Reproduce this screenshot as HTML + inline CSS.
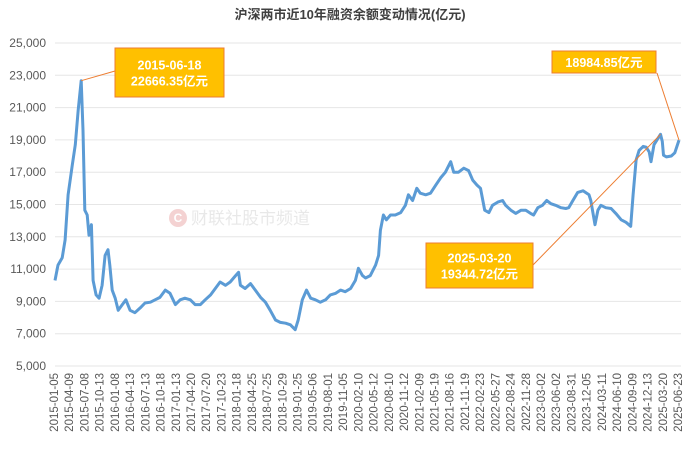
<!DOCTYPE html>
<html><head><meta charset="utf-8"><style>
body{margin:0;background:#fff;}
svg{display:block;font-family:"Liberation Sans","Noto Sans CJK SC",sans-serif;}
</style></head><body>
<svg id="chart" width="693" height="453" viewBox="0 0 693 453">
<text x="350" y="19" text-anchor="middle" font-size="13" font-weight="bold" fill="#404040">沪深两市近10年融资余额变动情况(亿元)</text>
<g id="grid"></g><g id="yticks"></g><g id="xticks"></g>
<g opacity="0.35">
<circle cx="178" cy="218" r="9" fill="#e08080"/>
<text x="178" y="222" text-anchor="middle" font-size="12" fill="#fff" font-weight="bold">C</text>
<text x="191" y="224" font-size="17" fill="#c0c0c0">财联社股市频道</text>
</g>
<path id="line" fill="none" stroke="#5b9bd5" stroke-width="3" stroke-linejoin="round"/>
<g id="annots"></g>
</svg>
<script>
const yTicks=[5000,7000,9000,11000,13000,15000,17000,19000,21000,23000,25000];
const xLabels=["2015-01-05","2015-04-09","2015-07-08","2015-10-13","2016-01-08","2016-04-13","2016-07-13","2016-10-18","2017-01-13","2017-04-20","2017-07-20","2017-10-23","2018-01-18","2018-04-25","2018-07-25","2018-10-29","2019-01-25","2019-05-06","2019-08-01","2019-11-05","2020-02-10","2020-05-12","2020-08-10","2020-11-12","2021-02-09","2021-05-19","2021-08-16","2021-11-19","2022-02-23","2022-05-27","2022-08-24","2022-11-28","2023-03-02","2023-06-02","2023-08-31","2023-12-05","2024-03-11","2024-06-10","2024-09-09","2024-12-13","2025-03-20","2025-06-23"];
const times=[2015.01,2015.06,2015.13,2015.18,2015.23,2015.30,2015.35,2015.40,2015.45,2015.48,2015.51,2015.55,2015.58,2015.62,2015.65,2015.70,2015.75,2015.80,2015.85,2015.90,2015.93,2015.97,2016.02,2016.07,2016.14,2016.20,2016.27,2016.35,2016.44,2016.52,2016.61,2016.69,2016.77,2016.86,2016.94,2017.03,2017.11,2017.19,2017.28,2017.36,2017.45,2017.53,2017.62,2017.70,2017.78,2017.87,2017.95,2018.04,2018.09,2018.12,2018.20,2018.29,2018.37,2018.46,2018.54,2018.62,2018.71,2018.79,2018.88,2018.96,2019.04,2019.09,2019.16,2019.23,2019.30,2019.38,2019.46,2019.55,2019.63,2019.72,2019.80,2019.88,2019.97,2020.05,2020.10,2020.17,2020.22,2020.30,2020.39,2020.44,2020.47,2020.52,2020.57,2020.64,2020.72,2020.81,2020.89,2020.94,2021.01,2021.08,2021.14,2021.23,2021.31,2021.40,2021.48,2021.56,2021.65,2021.70,2021.78,2021.87,2021.95,2022.02,2022.09,2022.15,2022.22,2022.29,2022.35,2022.44,2022.52,2022.57,2022.66,2022.74,2022.83,2022.91,2022.99,2023.04,2023.11,2023.19,2023.26,2023.33,2023.41,2023.50,2023.58,2023.63,2023.70,2023.78,2023.87,2023.97,2024.00,2024.07,2024.12,2024.17,2024.25,2024.34,2024.42,2024.51,2024.59,2024.67,2024.71,2024.76,2024.81,2024.88,2024.93,2024.98,2025.01,2025.06,2025.17,2025.20,2025.22,2025.27,2025.35,2025.41,2025.48];
const values=[10300,11250,11700,12800,15600,17450,18700,20850,22666,19600,14650,14350,13100,13750,10300,9400,9200,10000,11850,12200,11250,9700,9200,8450,8800,9100,8450,8300,8600,8900,8950,9100,9250,9700,9500,8800,9100,9200,9100,8800,8800,9100,9400,9800,10200,10000,10200,10600,10800,10000,9800,10100,9700,9250,8950,8450,7850,7700,7650,7550,7250,7850,9100,9700,9200,9100,8950,9100,9400,9500,9700,9600,9800,10300,11050,10600,10450,10600,11250,11850,13400,14350,14050,14350,14350,14500,14950,15600,15250,16000,15700,15600,15700,16200,16650,17000,17650,17000,17000,17250,17100,16500,16200,16000,14650,14500,14950,15150,15250,14950,14650,14450,14650,14650,14450,14350,14800,14950,15250,15050,14950,14800,14750,14800,15250,15750,15850,15600,15250,13750,14650,14950,14800,14750,14450,14050,13900,13650,15600,17750,18350,18600,18550,18250,17650,18700,19345,18900,18050,17950,18000,18200,18985];
const NS="http://www.w3.org/2000/svg";
const X0=55,X1=679,T0=2015.01,T1=2025.48;
const yScale=v=>366-(v-5000)/20000*323;
const xScale=t=>X0+(t-T0)/(T1-T0)*(X1-X0);
const mk=(tag,at,parent)=>{const e=document.createElementNS(NS,tag);for(const k in at)e.setAttribute(k,at[k]);parent.appendChild(e);return e;};
const grid=document.getElementById('grid'),yt=document.getElementById('yticks'),xt=document.getElementById('xticks');
yTicks.forEach(v=>{
  const l=mk('line',{x1:X0,x2:681,y1:yScale(v),y2:yScale(v),stroke:'#e6e6e6','stroke-width':1},grid);
  
  
  const t=mk('text',{x:46,y:yScale(v)+4,'text-anchor':'end','font-size':12,fill:'#595959'},yt);
  t.textContent=v.toLocaleString('en-US');
  
  
});
xLabels.forEach((s,i)=>{
  const x=54+i*(678-54)/(xLabels.length-1);
  const t=mk('text',{x:0,y:0,'text-anchor':'end','font-size':11.5,fill:'#595959',transform:`translate(${x+4},373) rotate(-90)`},xt);
  t.textContent=s;
  
  
});
document.getElementById('line').setAttribute('d',times.map((t,i)=>(i?'L':'M')+xScale(t).toFixed(1)+','+yScale(values[i]).toFixed(1)).join(''));
const an=document.getElementById('annots');
function annot(name,idx,bx,by,bw,bh,lines,ax,ay){
  const g=mk('g',{},an);
  
  
  mk('line',{x1:xScale(times[idx]),y1:yScale(values[idx]),x2:ax,y2:ay,stroke:'#ed7d31','stroke-width':1},g);
  mk('rect',{x:bx,y:by,width:bw,height:bh,fill:'#ffc000',stroke:'#ed7d31','stroke-width':1},g);
  lines.forEach((s,i)=>{const t=mk('text',{x:bx+bw/2,y:by+(bh-lines.length*16)/2+13+i*16,'text-anchor':'middle','font-size':12.5,'font-weight':'bold',fill:'#fff'},g);t.textContent=s;});
}
annot('peak-2015-annotation',8,115,48,109,49,['2015-06-18','22666.35亿元'],115,71);
annot('peak-2025-annotation',values.indexOf(19345),426,243,107,45,['2025-03-20','19344.72亿元'],533,265);
annot('latest-annotation',values.length-1,552,51,104,22,['18984.85亿元'],657,73);
</script>
</body></html>
